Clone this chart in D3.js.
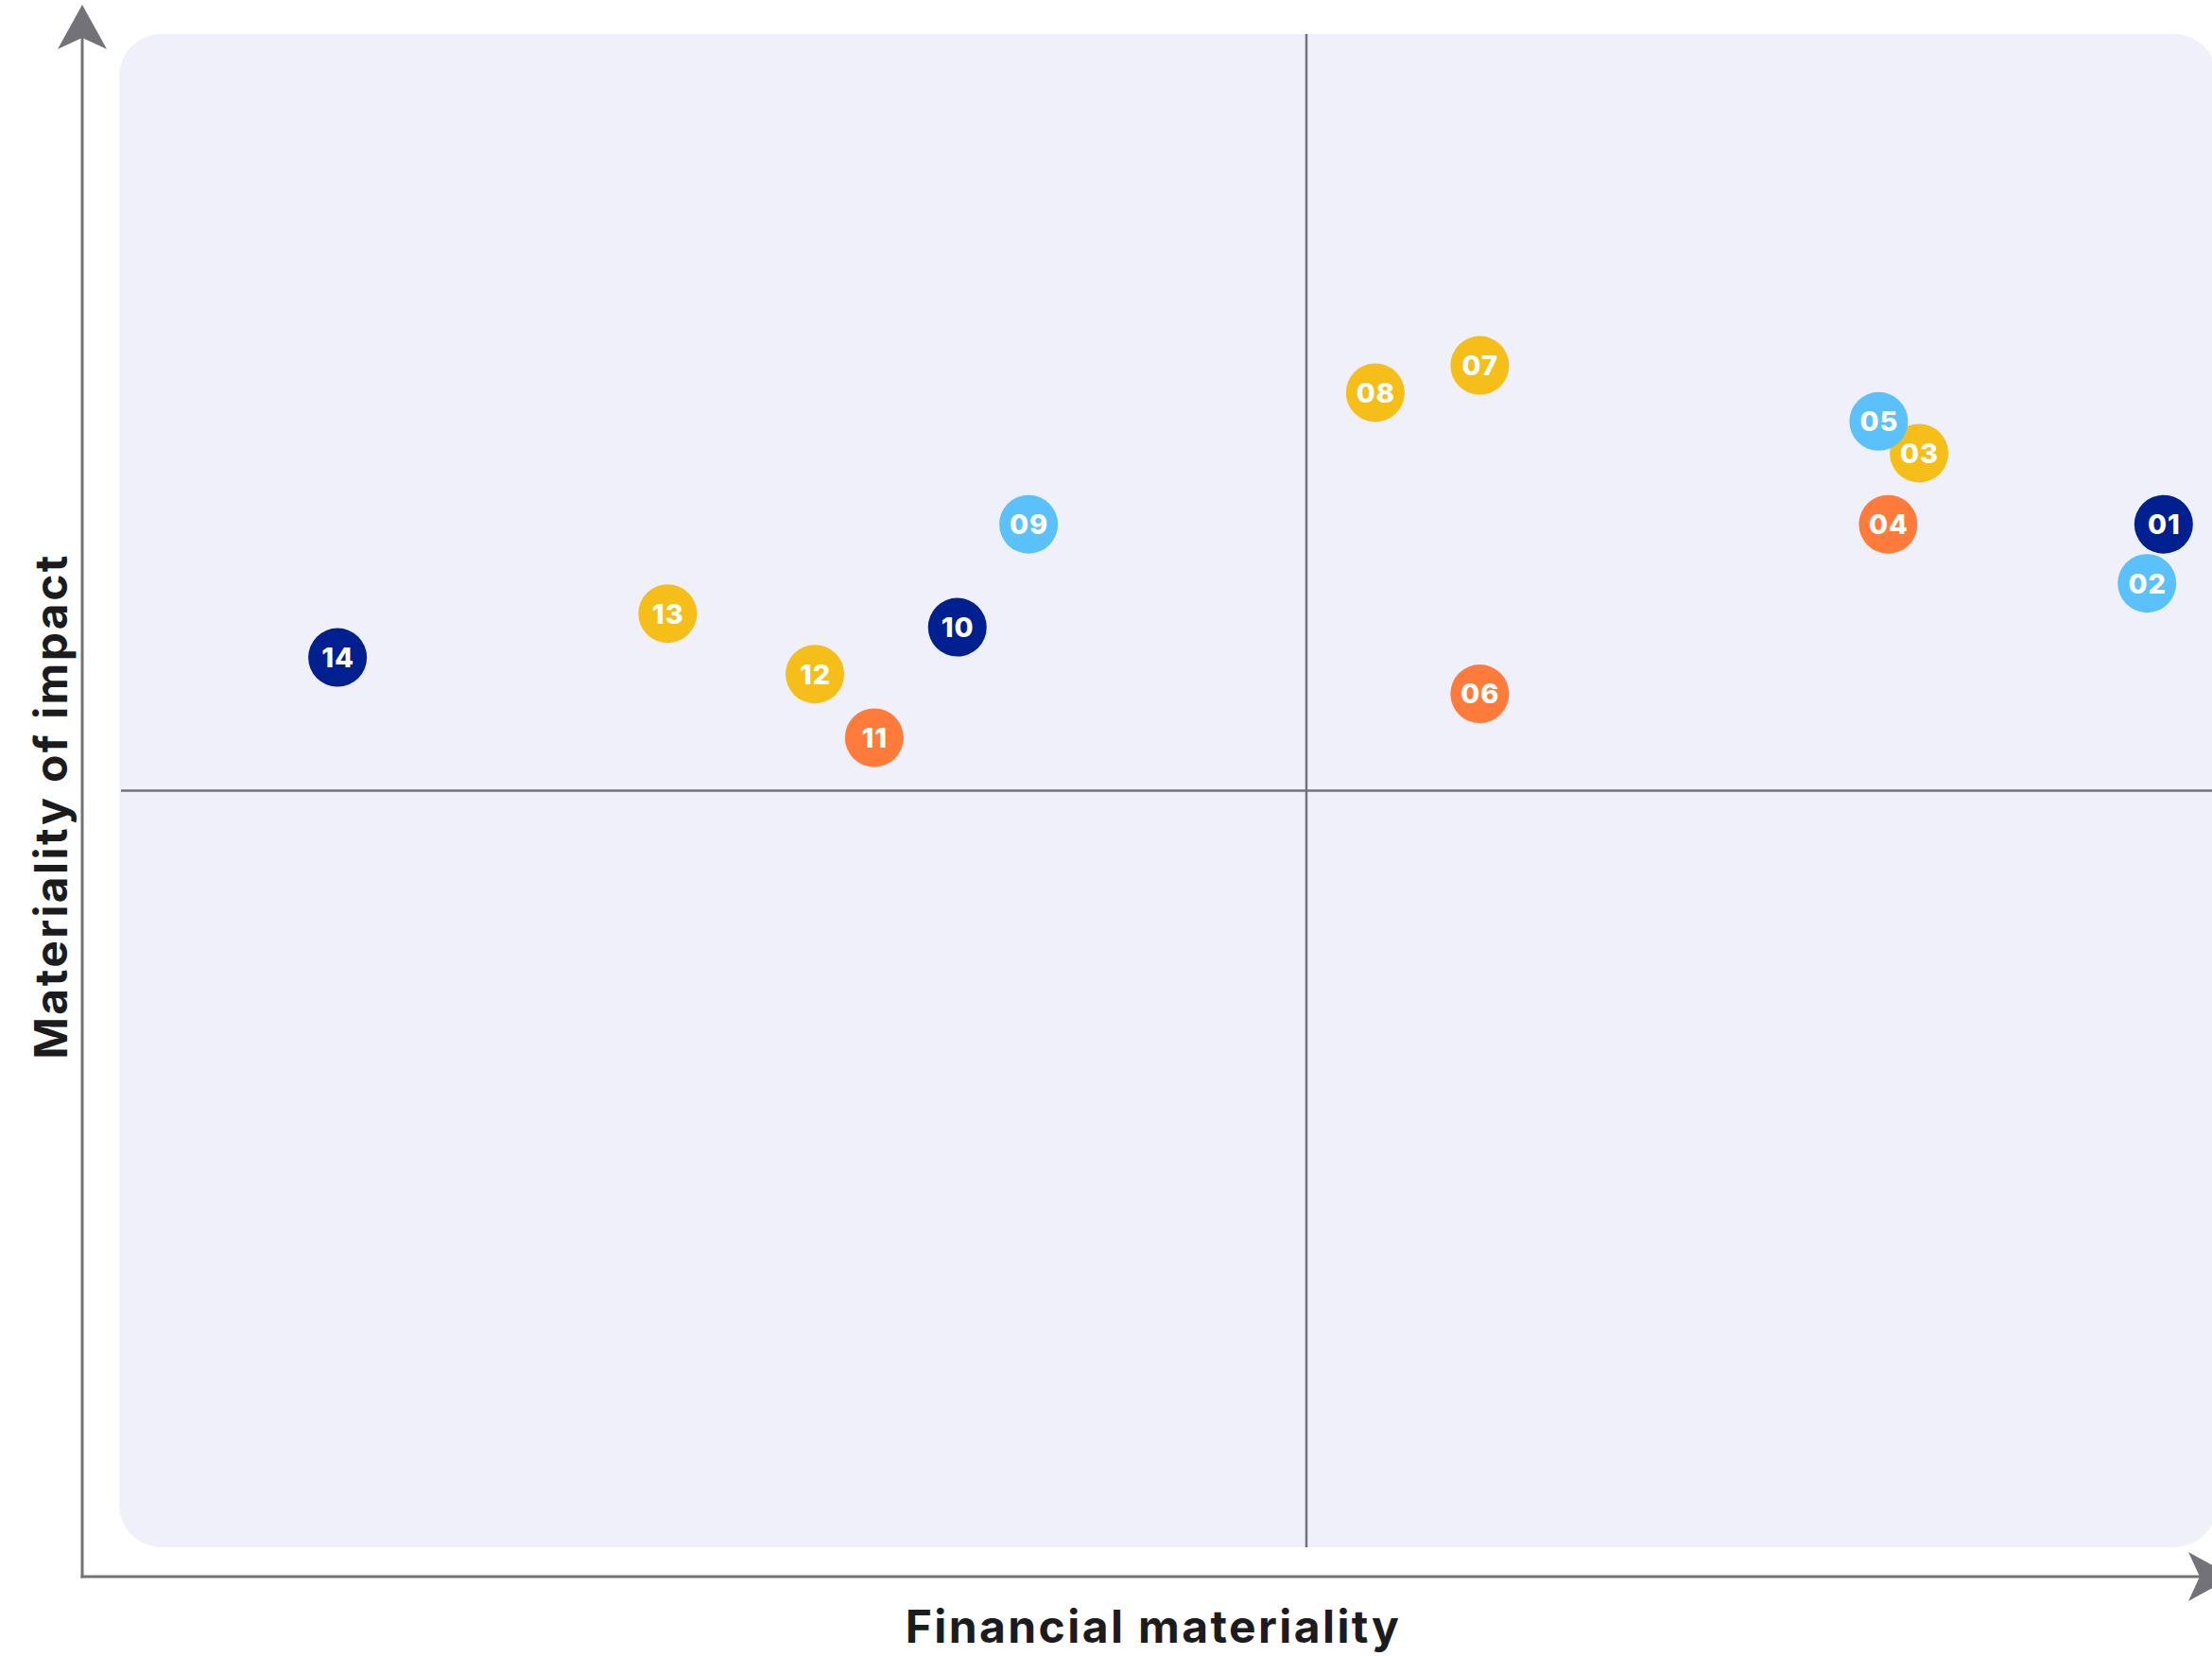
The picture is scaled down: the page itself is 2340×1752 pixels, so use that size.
<!DOCTYPE html>
<html lang="en">
<head>
<meta charset="UTF-8">
<title>Materiality matrix</title>
<script src="https://d3js.org/d3.v7.min.js"></script>
<style>
  body { margin: 0; background: #fff; }
  svg { display: block; }
  .axis-label { font-family: Inter, sans-serif; font-weight: 700; font-size: 48px; letter-spacing: 2.4px; fill: #1c1c1e; }
  .dot-label { font-family: Inter, sans-serif; font-weight: 800; font-size: 29px; letter-spacing: 1px; fill: #fff; }
</style>
</head>
<body>
<svg id="chart"></svg>
<script>
// topics on the matrix
const ids = ["01", "02", "03", "04", "05", "06", "07", "08", "09", "10", "11", "12", "13", "14"];
const financial = [8.61, 8.54, 7.58, 7.45, 7.41, 5.73, 5.73, 5.29, 3.83, 3.53, 3.18, 2.93, 2.31, 0.92];
const impact =    [6.76, 6.37, 7.23, 6.76, 7.44, 5.64, 7.81, 7.63, 6.76, 6.08, 5.35, 5.77, 6.17, 5.88];
const groups =    ["navy", "sky", "gold", "orange", "sky", "orange", "gold", "gold", "sky", "navy", "orange", "gold", "gold", "navy"];

const W = 2340, H = 1752;
const colors = { navy: "#00208f", sky: "#5bc1fb", gold: "#f5be19", orange: "#ff7b3b" };
const axisColor = "#727278";

const svg = d3.select("#chart").attr("width", W).attr("height", H);

// plot panel
const panel = { left: 126, top: 36, right: 2345, bottom: 1637 };
const x = d3.scaleLinear().domain([0, 10]).range([panel.left, 2638]);
const y = d3.scaleLinear().domain([0, 10]).range([panel.bottom, panel.top]);

svg.append("rect")
   .attr("x", panel.left).attr("y", panel.top)
   .attr("width", panel.right - panel.left)
   .attr("height", panel.bottom - panel.top)
   .attr("rx", 45).attr("ry", 45)
   .attr("fill", "#f0f0fa");

// quadrant dividers
svg.append("line")
   .attr("x1", x(5)).attr("x2", x(5))
   .attr("y1", panel.top).attr("y2", panel.bottom)
   .attr("stroke", axisColor).attr("stroke-width", 2.5);
svg.append("line")
   .attr("x1", panel.left + 2).attr("x2", W)
   .attr("y1", y(5)).attr("y2", y(5))
   .attr("stroke", axisColor).attr("stroke-width", 2.5);

// axes with arrows
const ax = 87, ay = 1668;
svg.append("line")
   .attr("x1", ax).attr("x2", ax).attr("y1", 40).attr("y2", ay + 1.5)
   .attr("stroke", axisColor).attr("stroke-width", 3);
svg.append("line")
   .attr("x1", ax - 1.5).attr("x2", 2330).attr("y1", ay).attr("y2", ay)
   .attr("stroke", axisColor).attr("stroke-width", 3);

svg.append("path")
   .attr("d", `M${ax},5 L${ax + 26},52 L${ax},40 L${ax - 26},52 Z`)
   .attr("fill", axisColor);
svg.append("path")
   .attr("d", `M2362,${ay} L2315,${ay - 26} L2327,${ay} L2315,${ay + 26} Z`)
   .attr("fill", axisColor);

svg.append("text")
   .attr("class", "axis-label")
   .attr("x", 1220).attr("y", 1738)
   .attr("text-anchor", "middle")
   .text("Financial materiality");

svg.append("text")
   .attr("class", "axis-label")
   .attr("transform", "translate(71,853) rotate(-90)")
   .attr("text-anchor", "middle")
   .text("Materiality of impact");

// bubbles
const pts = ids.map((id, i) => ({ id, fx: financial[i], iy: impact[i], g: groups[i] }));
const nodes = svg.append("g").selectAll("g")
   .data(pts)
   .join("g")
   .attr("transform", d => `translate(${x(d.fx)},${y(d.iy)})`);

nodes.append("circle")
   .attr("r", 31)
   .attr("fill", d => colors[d.g]);

nodes.append("text")
   .attr("class", "dot-label")
   .attr("text-anchor", "middle")
   .attr("dx", 0.5)
   .attr("dy", "0.36em")
   .text(d => d.id);
</script>
</body>
</html>
